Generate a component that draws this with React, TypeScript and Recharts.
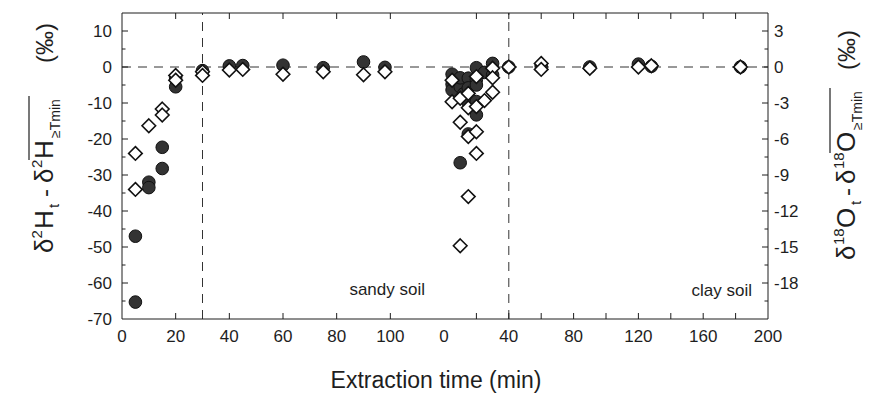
import React from 'react'
import { ScatterChart, Scatter, XAxis, YAxis, ReferenceLine } from 'recharts'

const FONT = '"Liberation Sans", Arial, Helvetica, sans-serif'
const INK = '#1e1e1e'

// sandy soil, filled circles = d2H (left axis), open diamonds = d18O (right axis)
const sandyHTime = [5, 5, 10, 10, 15, 15, 20, 20, 30, 40, 45, 60, 75, 90, 98]
const sandyH = [-47, -65.3, -32, -33.5, -22.3, -28.2, -3, -5.5, -1, 0.3, 0.4, 0.5, -0.2, 1.4, -0.1]
const sandyOTime = [5, 5, 10, 15, 15, 20, 20, 30, 30, 40, 45, 60, 75, 90, 98]
const sandyO = [-7.2, -10.2, -4.9, -3.5, -4.0, -0.7, -1.1, -0.4, -0.7, -0.25, -0.2, -0.6, -0.4, -0.65, -0.4]

// clay soil
const clayHTime = [5, 5, 5, 10, 10, 10, 12, 15, 15, 15, 15, 20, 20, 20, 20, 20, 25, 30, 30, 40, 60, 90, 120, 128, 183]
const clayH = [-2, -4.8, -6.4, -5.5, -3, -26.6, -7.5, -3.1, -5.8, -10, -18.6, -0.2, -3.5, -5, -9.6, -13.3, -1.5, 1, -2.2, 0, 0.3, 0, 0.8, 0.2, 0]
const clayOTime = [5, 5, 10, 10, 10, 15, 15, 15, 15, 20, 20, 20, 20, 25, 30, 30, 30, 40, 60, 60, 90, 120, 128, 183]
const clayO = [-1.1, -2.9, -2.6, -4.6, -14.9, -2.2, -3.4, -5.8, -10.8, -0.8, -3.3, -5.4, -7.2, -2.8, -0.1, -0.9, -2.1, 0, 0.3, -0.2, -0.1, 0, 0.1, 0]

// axes
const sandyXTicks = [0, 20, 40, 60, 80, 100, 120]
const sandyXLabels = [0, 20, 40, 60, 80, 100]
const clayXTicks = [0, 20, 40, 60, 80, 100, 120, 140, 160, 180, 200]
const clayXLabels = [0, 40, 80, 120, 160, 200]
const hTicks = [-70, -65, -60, -55, -50, -45, -40, -35, -30, -25, -20, -15, -10, -5, 0, 5, 10, 15]
const hLabels = [-70, -60, -50, -40, -30, -20, -10, 0, 10]
const oTicks = [-21, -19.5, -18, -16.5, -15, -13.5, -12, -10.5, -9, -7.5, -6, -4.5, -3, -1.5, 0, 1.5, 3, 4.5]
const oLabels = [-18, -15, -12, -9, -6, -3, 0, 3]

const H_DOMAIN: [number, number] = [-70, 15]
const O_DOMAIN: [number, number] = [-21, 4.5]

const pts = (xs: number[], ys: number[]) => xs.map((x, i) => ({ x, y: ys[i] }))

const Dot = (p: any) => (
    <circle cx={p.cx} cy={p.cy} r={6.3} fill="#333" stroke="#111" strokeWidth={1} />
)
const Diamond = (p: any) => {
    const { cx, cy } = p
    const s = 6.8
    return (
        <path
            d={`M${cx},${cy - s}L${cx + s},${cy}L${cx},${cy + s}L${cx - s},${cy}Z`}
            fill="#fff"
            stroke="#111"
            strokeWidth={1.6}
        />
    )
}
const Nothing = () => <g />

const labelStyle = { fontFamily: FONT, fontSize: 17, fill: INK }

// ticks point inward; lengths in px
const xTick = (labels: number[], side: 'top' | 'bottom', ends: [number, number]) => (p: any) => {
    const v = p.payload.value
    const dir = side === 'bottom' ? -1 : 1
    const inner = v !== ends[0] && v !== ends[1]
    return (
        <g>
            {inner && <line x1={p.x} x2={p.x} y1={p.y} y2={p.y + dir * 6} stroke={INK} />}
            {side === 'bottom' && labels.includes(v) && (
                <text x={p.x} y={p.y + 23} textAnchor="middle" style={labelStyle}>
                    {v}
                </text>
            )}
        </g>
    )
}

const yTick = (labels: number[], side: 'left' | 'right', showText: boolean, ends: [number, number]) => (p: any) => {
    const v = p.payload.value
    const dir = side === 'left' ? 1 : -1
    const major = labels.includes(v)
    const inner = v !== ends[0] && v !== ends[1]
    return (
        <g>
            {inner && <line x1={p.x} x2={p.x + dir * (major ? 6 : 3.5)} y1={p.y} y2={p.y} stroke={INK} />}
            {showText && major && (
                <text
                    x={side === 'left' ? p.x - 10 : p.x + 6}
                    y={p.y}
                    dy="0.36em"
                    textAnchor={side === 'left' ? 'end' : 'start'}
                    style={labelStyle}
                >
                    {v}
                </text>
            )}
        </g>
    )
}

const axisLine = { stroke: INK, strokeWidth: 1 }
const dash = '9 7'

function Panel(props: {
    left: number
    width: number
    margin: any
    xDomain: [number, number]
    xTicks: number[]
    xLabels: number[]
    vLine: number
    hLabelsOn: boolean
    oLabelsOn: boolean
    hWidth: number
    oWidth: number
    circles: { x: number; y: number }[]
    diamonds: { x: number; y: number }[]
}) {
    const p = props
    return (
        <div style={{ position: 'absolute', left: p.left, top: 0 }}>
            <ScatterChart width={p.width} height={345} margin={p.margin}>
                <XAxis
                    xAxisId="b"
                    dataKey="x"
                    type="number"
                    domain={p.xDomain}
                    ticks={p.xTicks}
                    interval={0}
                    tickSize={0}
                    tickMargin={0}
                    height={26}
                    axisLine={axisLine}
                    tickLine={false}
                    tick={xTick(p.xLabels, 'bottom', p.xDomain)}
                />
                <XAxis
                    xAxisId="t"
                    orientation="top"
                    dataKey="x"
                    type="number"
                    domain={p.xDomain}
                    ticks={p.xTicks}
                    interval={0}
                    tickSize={0}
                    tickMargin={0}
                    height={1}
                    axisLine={axisLine}
                    tickLine={false}
                    tick={xTick(p.xLabels, 'top', p.xDomain)}
                />
                <YAxis
                    yAxisId="h"
                    dataKey="y"
                    type="number"
                    domain={H_DOMAIN}
                    ticks={hTicks}
                    interval={0}
                    tickSize={0}
                    tickMargin={0}
                    width={p.hWidth}
                    axisLine={axisLine}
                    tickLine={false}
                    tick={yTick(hLabels, 'left', p.hLabelsOn, H_DOMAIN)}
                />
                <YAxis
                    yAxisId="o"
                    orientation="right"
                    dataKey="y"
                    type="number"
                    domain={O_DOMAIN}
                    ticks={oTicks}
                    interval={0}
                    tickSize={0}
                    tickMargin={0}
                    width={p.oWidth}
                    axisLine={axisLine}
                    tickLine={false}
                    tick={yTick(oLabels, 'right', p.oLabelsOn, O_DOMAIN)}
                />
                <ReferenceLine xAxisId="b" yAxisId="h" y={0} stroke="#333" strokeDasharray={dash} />
                <ReferenceLine xAxisId="b" yAxisId="h" x={p.vLine} stroke="#333" strokeDasharray={dash} />
                <Scatter xAxisId="t" yAxisId="h" data={p.circles} shape={Nothing} isAnimationActive={false} />
                <Scatter
                    xAxisId="b"
                    yAxisId="h"
                    data={p.circles}
                    shape={Dot}
                    isAnimationActive={false}
                />
                <Scatter
                    xAxisId="b"
                    yAxisId="o"
                    data={p.diamonds}
                    shape={Diamond}
                    isAnimationActive={false}
                />
            </ScatterChart>
        </div>
    )
}

type Piece = { t: string; x: number; s: number; dy?: number }

const hTitle: Piece[] = [
    { t: 'δ', x: 0, s: 26 },
    { t: '2', x: 14.5, s: 15, dy: -11 },
    { t: 'H', x: 24, s: 26 },
    { t: 't', x: 45, s: 15, dy: 6 },
    { t: '-', x: 56, s: 24 },
    { t: 'δ', x: 70, s: 26 },
    { t: '2', x: 85, s: 15, dy: -11 },
    { t: 'H', x: 94, s: 26 },
    { t: '≥Tmin', x: 115, s: 14, dy: 7 },
    { t: '(‰)', x: 190, s: 24 },
]

const oTitle: Piece[] = [
    { t: 'δ', x: 0, s: 26 },
    { t: '18', x: 15, s: 15, dy: -11 },
    { t: 'O', x: 32, s: 26 },
    { t: 't', x: 55, s: 15, dy: 6 },
    { t: '-', x: 64, s: 24 },
    { t: 'δ', x: 76, s: 26 },
    { t: '18', x: 91, s: 15, dy: -11 },
    { t: 'O', x: 108, s: 26 },
    { t: '≥Tmin', x: 130, s: 14, dy: 7 },
    { t: '(‰)', x: 190, s: 24 },
]

function Title({ x, y, pieces, bar }: { x: number; y: number; pieces: Piece[]; bar: [number, number, number] }) {
    return (
        <g transform={`translate(${x},${y}) rotate(-90)`}>
            {pieces.map((p, i) => (
                <text key={i} x={p.x} y={p.dy || 0} fontSize={p.s} fontFamily={FONT} fill={INK}>
                    {p.t}
                </text>
            ))}
            <line x1={bar[0]} x2={bar[1]} y1={bar[2]} y2={bar[2]} stroke={INK} strokeWidth={1.2} />
        </g>
    )
}

export default function App() {
    return (
        <div style={{ position: 'absolute', left: 0, top: 0, width: 872, height: 412, background: '#fff' }}>
            <Panel
                left={0}
                width={446}
                margin={{ top: 12, right: 2, bottom: 0, left: 62 }}
                xDomain={[0, 120]}
                xTicks={sandyXTicks}
                xLabels={sandyXLabels}
                vLine={30}
                hLabelsOn={true}
                oLabelsOn={false}
                hWidth={60}
                oWidth={0}
                circles={pts(sandyHTime, sandyH)}
                diamonds={pts(sandyOTime, sandyO)}
            />
            <Panel
                left={430}
                width={442}
                margin={{ top: 12, right: 44, bottom: 0, left: 14 }}
                xDomain={[0, 200]}
                xTicks={clayXTicks}
                xLabels={clayXLabels}
                vLine={40}
                hLabelsOn={false}
                oLabelsOn={true}
                hWidth={0}
                oWidth={60}
                circles={pts(clayHTime, clayH)}
                diamonds={pts(clayOTime, clayO)}
            />
            <svg
                width={872}
                height={412}
                style={{ position: 'absolute', left: 0, top: 0, pointerEvents: 'none' }}
            >
                <text x={425} y={295} textAnchor="end" style={labelStyle}>sandy soil</text>
                <text x={752} y={296} textAnchor="end" style={labelStyle}>clay soil</text>
                <text x={436} y={388} textAnchor="middle" fontFamily={FONT} fontSize={23} fill={INK}>
                    Extraction time (min)
                </text>
                <Title x={53} y={253} pieces={hTitle} bar={[93, 157, -24]} />
                <Title x={855} y={260} pieces={oTitle} bar={[107, 172, -25]} />
            </svg>
        </div>
    )
}
